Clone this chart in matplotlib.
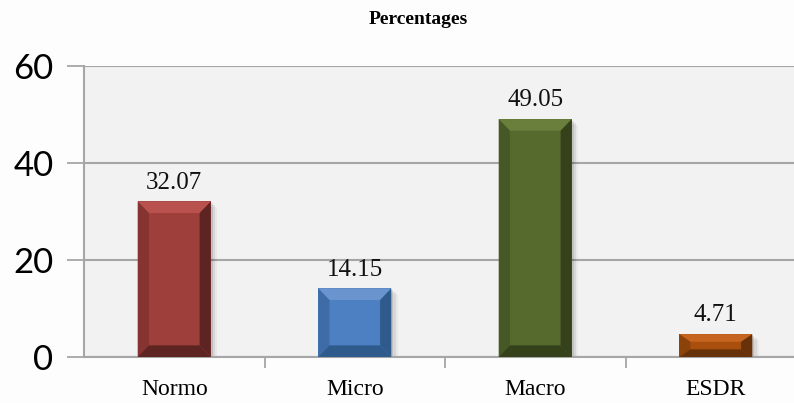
import matplotlib
matplotlib.use("Agg")
import matplotlib.pyplot as plt
from matplotlib.patches import Polygon, Rectangle

categories = ["Normo", "Micro", "Macro", "ESDR"]
values = [32.07, 14.15, 49.05, 4.71]
labels = ["32.07", "14.15", "49.05", "4.71"]
yticks = [0, 20, 40, 60]

# face / highlight / shade colours for each bar
face = ["#9f3f3c", "#4c80c2", "#566a2d", "#a84f0e"]
light = ["#b9524f", "#6994cd", "#6a7f3b", "#c5651f"]
dark = ["#5e2422", "#2f5a8c", "#34411b", "#673209"]
mid = ["#853432", "#3f6ca6", "#475827", "#8b420b"]

W, H = 794, 403
fig = plt.figure(figsize=(W / 100, H / 100), dpi=100)
fig.patch.set_facecolor("#fdfdfd")
ax = fig.add_axes([84 / W, 46 / H, 722 / W, 291 / H])
ax.set_facecolor("#f2f2f2")

x = range(len(categories))
bw = 0.405
bars = ax.bar(x, values, width=bw, color=face, zorder=3)

dx = 0.062
for i, b in enumerate(bars):
    x0, y0 = b.get_x(), b.get_y()
    x1, y1 = x0 + b.get_width(), y0 + b.get_height()
    dy = min(2.4, b.get_height() / 3)
    # soft drop shadow
    for k, a in enumerate([0.10, 0.07, 0.04]):
        off = 0.012 * (k + 1)
        ax.add_patch(Rectangle((x0 + off, y0), b.get_width(), b.get_height() - 0.4 * (k + 1),
                               color="#000000", alpha=a, lw=0, zorder=2))
    # bevel: top, left, right, bottom
    ax.add_patch(Polygon([(x0, y1), (x1, y1), (x1 - dx, y1 - dy), (x0 + dx, y1 - dy)],
                         closed=True, color=light[i], lw=0, zorder=4))
    ax.add_patch(Polygon([(x0, y0), (x0, y1), (x0 + dx, y1 - dy), (x0 + dx, y0 + dy)],
                         closed=True, color=mid[i], lw=0, zorder=4))
    ax.add_patch(Polygon([(x1, y0), (x1, y1), (x1 - dx, y1 - dy), (x1 - dx, y0 + dy)],
                         closed=True, color=dark[i], lw=0, zorder=4))
    ax.add_patch(Polygon([(x0, y0), (x1, y0), (x1 - dx, y0 + dy), (x0 + dx, y0 + dy)],
                         closed=True, color=dark[i], lw=0, zorder=4))
    ax.text(b.get_x() + b.get_width() / 2, y1 + 1.6, labels[i], ha="center", va="bottom",
            family="Liberation Serif", fontsize=18, color="#111111", zorder=5)

ax.set_xlim(-0.5, len(categories) - 0.5)
ax.set_ylim(0, 60)
ax.set_yticks(yticks)
ax.set_yticklabels([str(t) for t in yticks], family="Lato", fontsize=25)
ax.yaxis.grid(True, color="#a6a6a6", lw=1.5, zorder=1)
ax.tick_params(axis="y", length=12, width=1.3, color="#a6a6a6", pad=10)

ax.set_xticks([i + 0.5 for i in x])
ax.set_xticks(list(x), minor=True)
ax.set_xticklabels(["", "", "", ""])
ax.set_xticklabels(categories, minor=True, family="Liberation Serif", fontsize=17)
ax.tick_params(axis="x", which="major", length=8, width=1.3, color="#a6a6a6")
ax.tick_params(axis="x", which="minor", length=0, pad=16)

for s in ["top", "right"]:
    ax.spines[s].set_visible(False)
for s in ["left", "bottom"]:
    ax.spines[s].set_color("#a6a6a6")
    ax.spines[s].set_linewidth(1.5)

fig.text(418 / W, 1 - 19 / H, "Percentages", ha="center", va="center",
         family="Liberation Serif", fontsize=14, fontweight="bold")

fig.savefig("out.png", dpi=100, facecolor=fig.get_facecolor())
